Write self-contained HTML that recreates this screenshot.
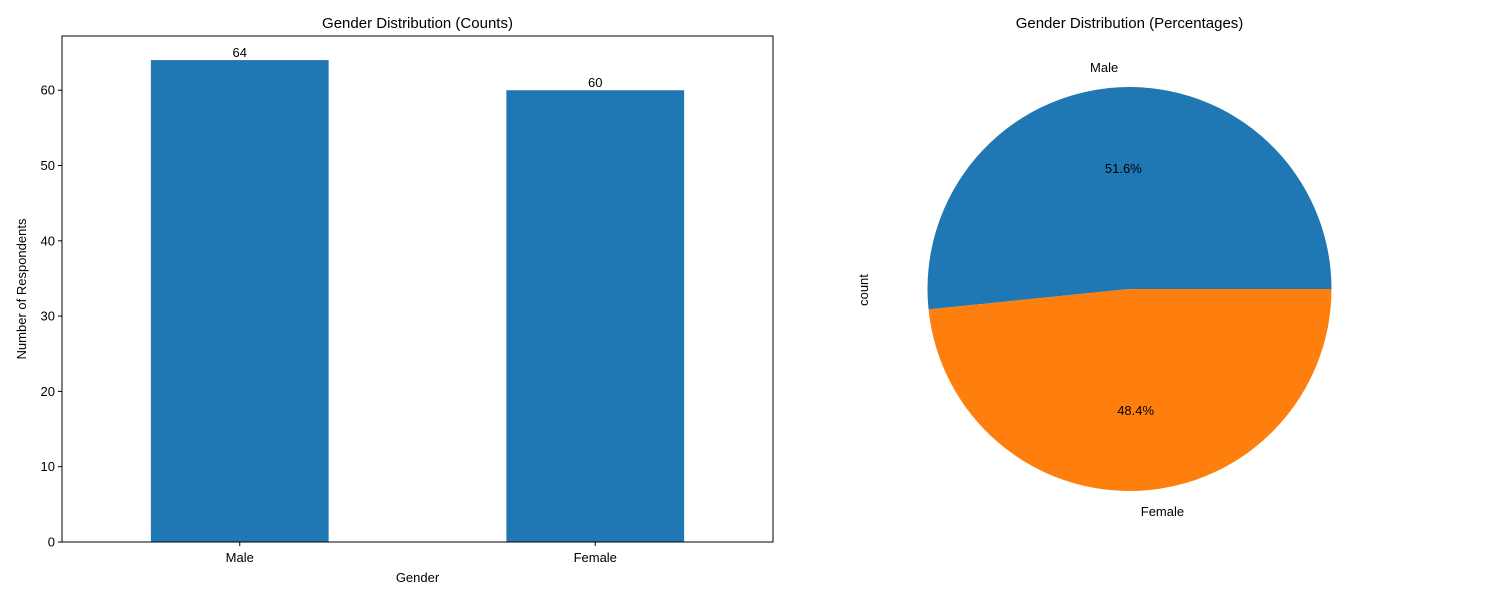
<!DOCTYPE html>
<html><head><meta charset="utf-8"><style>
body{margin:0;background:#fff;}
svg text{font-family:"Liberation Sans","DejaVu Sans",sans-serif;fill:#000;}
</style></head><body>
<svg id="c" width="1500" height="600" xmlns="http://www.w3.org/2000/svg">
<rect width="1500" height="600" fill="#fff"/>
</svg>
<script>
const categories = ["Male", "Female"];
const counts = [64, 60];
const yTicks = [0, 10, 20, 30, 40, 50, 60];
const pieColors = ["#1f77b4", "#ff7f0e"];

const svg = document.getElementById('c');
const NS = 'http://www.w3.org/2000/svg';
function mk(tag, attrs, parent) {
  const e = document.createElementNS(NS, tag);
  for (const k in attrs) e.setAttribute(k, attrs[k]);
  (parent || svg).appendChild(e);
  return e;
}
// bar axes
const L = 62, R = 773, T = 36, B = 542;
const yMax = Math.max(...counts) * 1.05;
const yS = v => B - (v / yMax) * (B - T);
const band = (R - L) / categories.length;
const xC = i => L + band * (i + 0.5);

let t = mk('text', {x: (L + R) / 2, y: 28, 'text-anchor': 'middle', 'font-size': 15});
t.textContent = 'Gender Distribution (Counts)';



categories.forEach((c, i) => {
  const w = band * 0.5;
  const r = mk('rect', {x: xC(i) - w / 2, y: yS(counts[i]), width: w, height: B - yS(counts[i]), fill: '#1f77b4'});
  
  
  const lb = mk('text', {x: xC(i), y: yS(counts[i]) - 3, 'text-anchor': 'middle', 'font-size': 13});
  lb.textContent = counts[i];
  
  
  mk('line', {x1: xC(i), x2: xC(i), y1: B, y2: B + 4, stroke: '#000'});
  const tl = mk('text', {x: xC(i), y: B + 20, 'text-anchor': 'middle', 'font-size': 13});
  tl.textContent = c;
  
  
});
yTicks.forEach(v => {
  mk('line', {x1: L - 4, x2: L, y1: yS(v), y2: yS(v), stroke: '#000'});
  const tl = mk('text', {x: L - 7, y: yS(v) + 4.5, 'text-anchor': 'end', 'font-size': 13});
  tl.textContent = v;
  
  
});
const frame = mk('rect', {x: L, y: T, width: R - L, height: B - T, fill: 'none', stroke: '#000', 'stroke-width': 1});


t = mk('text', {x: (L + R) / 2, y: 582, 'text-anchor': 'middle', 'font-size': 13});
t.textContent = 'Gender';


t = mk('text', {x: 0, y: 0, 'text-anchor': 'middle', 'font-size': 13, transform: 'translate(26,289) rotate(-90)'});
t.textContent = 'Number of Respondents';



// pie
const cx = 1129.5, cy = 289, rad = 202;
t = mk('text', {x: cx, y: 28, 'text-anchor': 'middle', 'font-size': 15});
t.textContent = 'Gender Distribution (Percentages)';


t = mk('text', {x: 0, y: 0, 'text-anchor': 'middle', 'font-size': 13, transform: 'translate(868,290) rotate(-90)'});
t.textContent = 'count';


const total = counts.reduce((a, b) => a + b, 0);
let a0 = 0;
const pt = (a, r) => [cx + r * Math.cos(a), cy - r * Math.sin(a)];
counts.forEach((v, i) => {
  const a1 = a0 + v / total * 2 * Math.PI;
  const p0 = pt(a0, rad), p1 = pt(a1, rad);
  const large = (a1 - a0) > Math.PI ? 1 : 0;
  const p = mk('path', {d: `M${cx},${cy} L${p0[0]},${p0[1]} A${rad},${rad} 0 ${large} 0 ${p1[0]},${p1[1]} Z`, fill: pieColors[i]});
  
  
  const am = (a0 + a1) / 2;
  const lp = pt(am, rad * 1.1);
  const lab = mk('text', {x: lp[0], y: lp[1] + 5, 'text-anchor': Math.cos(am) < 0 ? 'end' : 'start', 'font-size': 13});
  lab.textContent = categories[i];
  
  
  const pp = pt(am, rad * 0.6);
  const pc = mk('text', {x: pp[0], y: pp[1] + 5, 'text-anchor': 'middle', 'font-size': 13});
  pc.textContent = (v / total * 100).toFixed(1) + '%';
  
  
  a0 = a1;
});
</script>
</body></html>
